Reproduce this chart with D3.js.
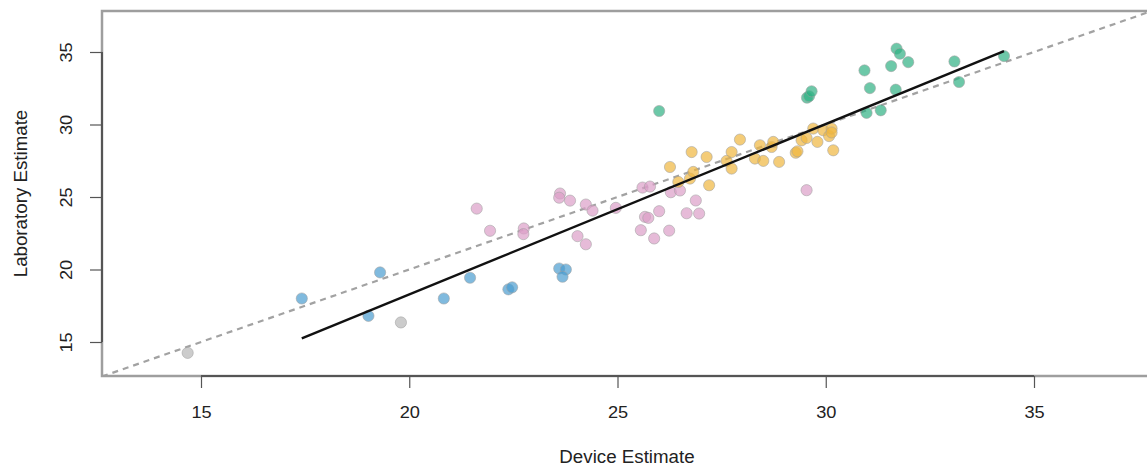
<!DOCTYPE html>
<html><head><meta charset="utf-8">
<script src="https://cdn.jsdelivr.net/npm/d3@7"></script>
<style>body{margin:0;background:#fff;}svg{display:block;font-family:"Liberation Sans",Arial,sans-serif;}</style>
</head><body>
<svg id="chart" width="1147" height="468"></svg>
<script>
const xTicks = [15, 20, 25, 30, 35];
const yTicks = [15, 20, 25, 30, 35];
const xTitle = "Device Estimate";
const yTitle = "Laboratory Estimate";

const greyX = [14.68, 19.8];
const greyY = [14.25, 16.35];

const blueX = [17.42, 19.02, 19.3, 20.83, 21.46, 22.38, 22.47, 23.6, 23.76, 23.68];
const blueY = [18.0, 16.8, 19.8, 18.0, 19.43, 18.63, 18.77, 20.07, 20.0, 19.5];

const pinkX = [21.62, 21.94, 22.75, 22.74, 23.62, 23.6, 23.86, 24.24, 24.4, 24.04, 24.24, 24.96, 25.6, 25.78, 25.66, 25.74, 26.0, 25.56, 25.88, 26.24, 26.28, 26.5, 26.88, 26.66, 26.96, 29.54];
const pinkY = [24.2, 22.67, 22.83, 22.44, 25.24, 24.95, 24.75, 24.48, 24.06, 22.3, 21.74, 24.25, 25.65, 25.72, 23.63, 23.56, 24.02, 22.71, 22.14, 22.68, 25.33, 25.45, 24.76, 23.88, 23.86, 25.47];

const yellowX = [26.26, 26.46, 26.74, 26.82, 26.78, 27.14, 27.2, 27.62, 27.74, 27.74, 27.94, 28.3, 28.42, 28.5, 28.7, 28.74, 28.88, 29.28, 29.32, 29.42, 29.54, 29.7, 29.8, 29.94, 30.08, 30.14, 30.14, 30.18];
const yellowY = [27.07, 26.04, 26.27, 26.73, 28.1, 27.76, 25.81, 27.49, 28.1, 26.96, 28.96, 27.65, 28.57, 27.49, 28.45, 28.8, 27.42, 28.05, 28.15, 28.91, 29.07, 29.72, 28.8, 29.6, 29.2, 29.72, 29.45, 28.22];

const greenX = [26.0, 29.55, 29.6, 29.66, 30.93, 31.06, 30.98, 31.32, 31.57, 31.68, 31.7, 31.78, 31.98, 33.09, 33.2, 34.28];
const greenY = [30.93, 31.85, 31.95, 32.29, 33.73, 32.51, 30.8, 30.98, 34.03, 32.4, 35.23, 34.88, 34.3, 34.35, 32.93, 34.72];

const fitX = [17.42, 34.28];
const fitY = [15.25, 35.06];

const groups = [
  {x: greyX, y: greyY, color: "#b6b6b6"},
  {x: blueX, y: blueY, color: "#4a9cd0"},
  {x: pinkX, y: pinkY, color: "#dc9ec8"},
  {x: yellowX, y: yellowY, color: "#efb73e"},
  {x: greenX, y: greenY, color: "#2fb083"}
];

const svg = d3.select("#chart");
const x = d3.scaleLinear().domain([15, 35]).range([201, 1034]);
const y = d3.scaleLinear().domain([15, 35]).range([342, 52]);
const box = {l: 102, t: 11, r: 1152, b: 376};

svg.append("clipPath").attr("id", "clip").append("rect")
  .attr("x", box.l).attr("y", box.t).attr("width", box.r - box.l).attr("height", box.b - box.t);
const lo = x.invert(box.l), hi = x.invert(box.r);
svg.append("line").attr("clip-path", "url(#clip)")
  .attr("x1", x(lo)).attr("y1", y(lo)).attr("x2", x(hi)).attr("y2", y(hi))
  .attr("stroke", "#a2a2a2").attr("stroke-width", 2.2).attr("stroke-dasharray", "6,5");

groups.forEach(g => {
  svg.append("g").selectAll("circle").data(g.x.map((v, i) => [v, g.y[i]])).join("circle")
    .attr("cx", d => x(d[0])).attr("cy", d => y(d[1])).attr("r", 5.6)
    .attr("fill", g.color).attr("fill-opacity", 0.7)
    .attr("stroke", "#a0a0a0").attr("stroke-opacity", 0.55).attr("stroke-width", 1);
});

svg.append("line")
  .attr("x1", x(fitX[0])).attr("y1", y(fitY[0])).attr("x2", x(fitX[1])).attr("y2", y(fitY[1]))
  .attr("stroke", "#111").attr("stroke-width", 2.4);

svg.append("rect").attr("x", box.l).attr("y", box.t).attr("width", box.r - box.l).attr("height", box.b - box.t)
  .attr("fill", "none").attr("stroke", "#9e9e9e").attr("stroke-width", 2.5);

const xa = svg.append("g").attr("transform", `translate(0,${box.b})`)
  .call(d3.axisBottom(x).tickValues(xTicks).tickSize(12).tickPadding(18).tickFormat(d3.format("d")));
const ya = svg.append("g").attr("transform", `translate(${box.l},0)`)
  .call(d3.axisLeft(y).tickValues(yTicks).tickSize(12).tickPadding(8).tickFormat(d3.format("d")));
[xa, ya].forEach(a => {
  a.select(".domain").attr("stroke", "#555").attr("stroke-width", 2);
  a.selectAll(".tick line").attr("stroke", "#555").attr("stroke-width", 1.2);
  a.selectAll("text").attr("font-size", 17).attr("fill", "#222").attr("font-family", "Liberation Sans, Arial, sans-serif");
});
xa.select(".domain").attr("d", `M${x(15)},0H${x(35)}`);
ya.select(".domain").attr("d", `M0,${y(15)}V${y(35)}`);
ya.selectAll(".tick text").attr("text-anchor", "middle").attr("x", 0).attr("dy", 0)
  .attr("transform", "translate(-34,0) rotate(-90)").attr("dominant-baseline", "middle");

svg.append("text").attr("x", 627).attr("y", 463).attr("text-anchor", "middle")
  .attr("font-size", 17.5).attr("fill", "#222").text(xTitle);
svg.append("text").attr("transform", `translate(27,${(box.t + box.b) / 2}) rotate(-90)`)
  .attr("text-anchor", "middle").attr("font-size", 17.5).attr("fill", "#222").text(yTitle);

svg.selectAll("text").each(function() {
  const len = this.getComputedTextLength();
  d3.select(this).attr("textLength", len * 1.07).attr("lengthAdjust", "spacingAndGlyphs");
});
</script>
</body></html>
